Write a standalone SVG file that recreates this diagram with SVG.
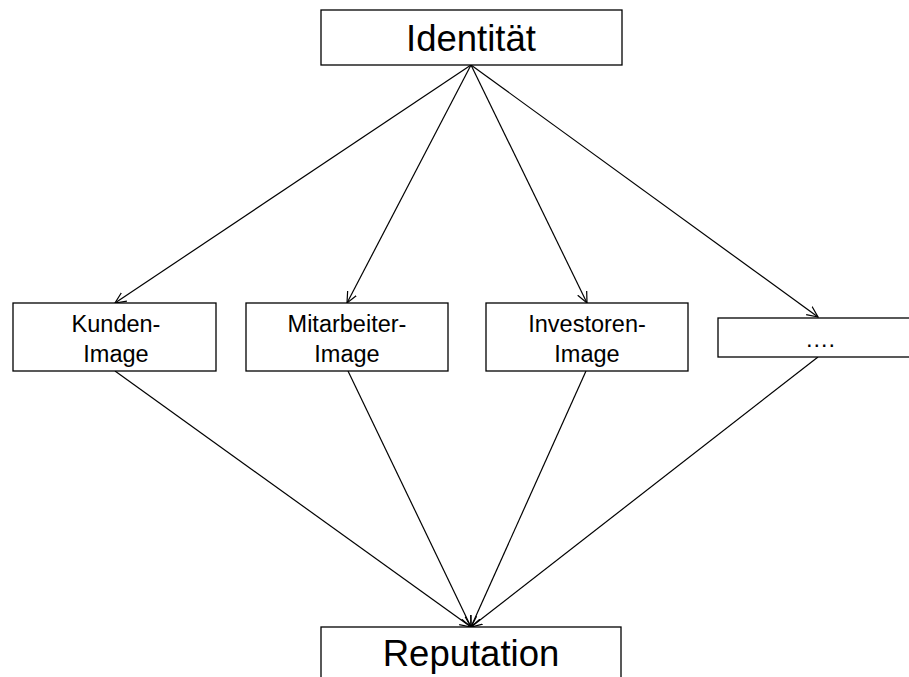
<svg xmlns="http://www.w3.org/2000/svg" width="909" height="677" viewBox="0 0 909 677">
<defs>
<style>
.box{fill:#fff;stroke:#000;stroke-width:1.3}
.t{font-family:"Liberation Sans",Arial,sans-serif;fill:#000;text-anchor:middle}
.big{font-size:36.5px}
.small{font-size:23.5px}
.c{stroke:#000;stroke-width:1.2;fill:none}
</style>
<marker id="arr" viewBox="0 0 12 12" refX="11" refY="6" markerWidth="12" markerHeight="12" markerUnits="userSpaceOnUse" orient="auto">
<path d="M0,1 L11,6 L0,11" fill="none" stroke="#000" stroke-width="1.2"/>
</marker>
</defs>
<rect width="909" height="677" fill="#fff"/>
<g id="connectors">
<line class="c" x1="471" y1="65" x2="115" y2="303" marker-end="url(#arr)"/>
<line class="c" x1="471" y1="65" x2="347" y2="303" marker-end="url(#arr)"/>
<line class="c" x1="471" y1="65" x2="587" y2="303" marker-end="url(#arr)"/>
<line class="c" x1="471" y1="65" x2="818" y2="317" marker-end="url(#arr)"/>
<line class="c" x1="115" y1="371" x2="471" y2="627" marker-end="url(#arr)"/>
<line class="c" x1="348" y1="371" x2="471" y2="627" marker-end="url(#arr)"/>
<line class="c" x1="586" y1="371" x2="471" y2="627" marker-end="url(#arr)"/>
<line class="c" x1="818" y1="357" x2="471" y2="627" marker-end="url(#arr)"/>
</g>
<g id="identitaet">
<rect class="box" x="321" y="10" width="301" height="55"/>
<text class="t big" x="471" y="51">Identität</text>
</g>
<g id="kunden">
<rect class="box" x="13" y="303" width="203" height="68"/>
<text class="t small" x="116" y="332">Kunden-</text>
<text class="t small" x="116" y="362">Image</text>
</g>
<g id="mitarbeiter">
<rect class="box" x="246" y="303" width="202" height="68"/>
<text class="t small" x="347" y="332">Mitarbeiter-</text>
<text class="t small" x="347" y="362">Image</text>
</g>
<g id="investoren">
<rect class="box" x="486" y="303" width="202" height="68"/>
<text class="t small" x="587" y="332">Investoren-</text>
<text class="t small" x="587" y="362">Image</text>
</g>
<g id="weitere">
<rect class="box" x="718" y="318" width="204" height="39"/>
<text class="t small" x="820" y="347">….</text>
</g>
<g id="reputation">
<rect class="box" x="321" y="627" width="300" height="60"/>
<text class="t big" x="471" y="666">Reputation</text>
</g>
</svg>
